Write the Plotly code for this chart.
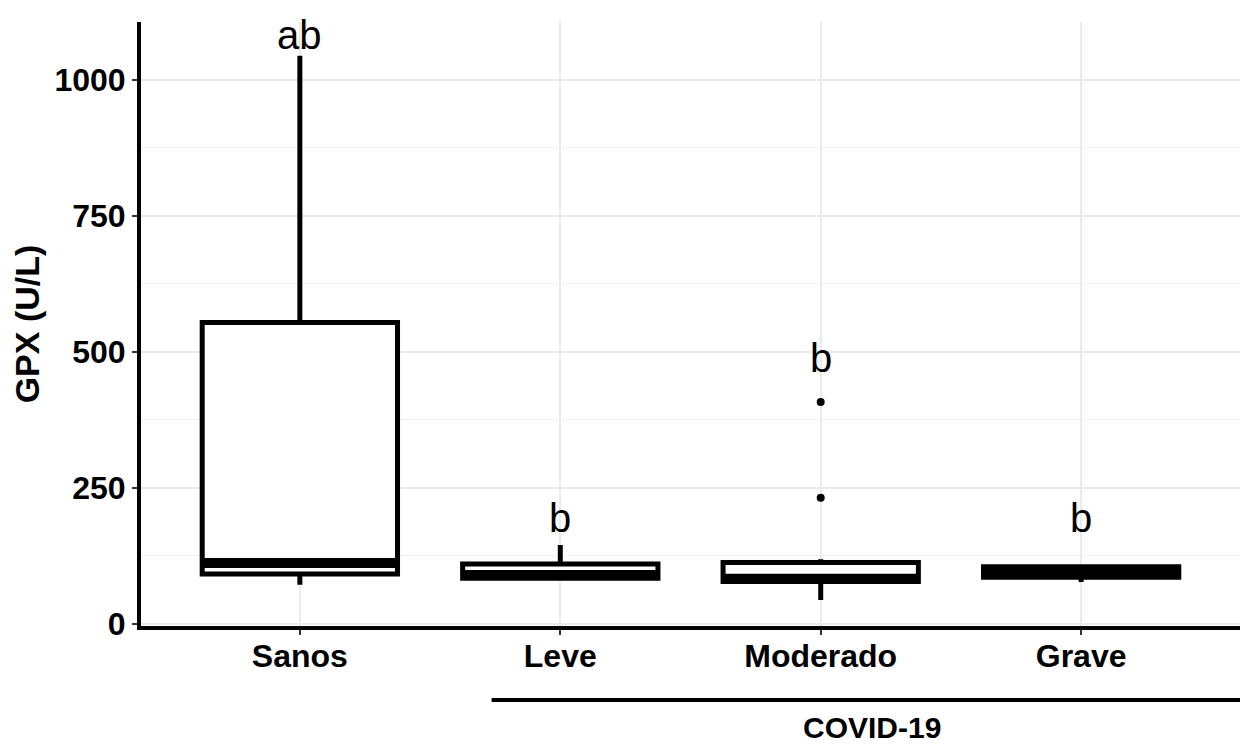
import plotly.graph_objects as go

categories = ["Sanos", "Leve", "Moderado", "Grave"]
lower_whisker = [72, 82, 44, 77]
q1 = [92, 84, 78, 86]
median = [112, 90, 83, 96]
q3 = [554, 110, 113, 105]
upper_whisker = [1044, 145, 119, 105]
outlier_cat = [2, 2]
outlier_val = [408, 232]
letters = ["ab", "b", "b", "b"]
letter_y = [1083, 195, 489, 195]
y_ticks = [0, 250, 500, 750, 1000]

FONT = "Liberation Sans, Arial, sans-serif"
BW = 0.75
xs = list(range(len(categories)))

fig = go.Figure()
for i, c in enumerate(categories):
    fig.add_trace(go.Box(
        x=[i], q1=[q1[i]], median=[median[i]], q3=[q3[i]],
        lowerfence=[lower_whisker[i]], upperfence=[upper_whisker[i]],
        width=BW, whiskerwidth=0, fillcolor="white",
        line=dict(color="black", width=5), boxpoints=False,
        showlegend=False, hoverinfo="skip"))
    fig.add_trace(go.Scatter(
        x=[i - BW / 2, i + BW / 2], y=[median[i], median[i]], mode="lines",
        line=dict(color="black", width=10), showlegend=False, hoverinfo="skip"))

fig.add_trace(go.Scatter(
    x=outlier_cat, y=outlier_val, mode="markers",
    marker=dict(color="black", size=8), showlegend=False, hoverinfo="skip"))

for i, t in enumerate(letters):
    fig.add_annotation(x=i, y=letter_y[i], text=t, showarrow=False,
                       font=dict(family=FONT, size=40, color="black"),
                       xref="x", yref="y", yanchor="middle")

# COVID-19 grouping bracket
fig.add_shape(type="line", xref="paper", yref="paper",
              x0=0.319, x1=1.01, y0=-0.1225, y1=-0.1225,
              line=dict(color="black", width=4))
fig.add_annotation(text="<b>COVID-19</b>", xref="paper", yref="paper",
                   x=0.665, y=-0.1985, showarrow=False,
                   font=dict(family=FONT, size=30, color="black"),
                   yanchor="bottom")

# the page body has an 8px margin, so the figure is sized/offset to compensate
fig.update_layout(
    width=1240, height=739,
    margin=dict(l=133, r=8, t=14, b=121),
    paper_bgcolor="white", plot_bgcolor="white",
    font=dict(family=FONT, color="black"),
    xaxis=dict(
        tickmode="array", tickvals=xs,
        ticktext=["<b>%s</b>" % c for c in categories],
        range=[-0.61, 3.61], showgrid=True, gridcolor="#ebebeb", gridwidth=1.5,
        zeroline=False, showline=True, linecolor="black", linewidth=4,
        ticks="outside", ticklen=5, tickwidth=2, tickcolor="#333333",
        tickfont=dict(family=FONT, size=32, color="black"),
        ticklabelstandoff=-6, automargin=False),
    yaxis=dict(
        tickmode="array", tickvals=y_ticks,
        ticktext=["<b>%d</b>" % v for v in y_ticks],
        range=[-3.7, 1106], showgrid=True, gridcolor="#ebebeb", gridwidth=1.5,
        minor=dict(dtick=125, tick0=0, showgrid=True, gridcolor="#f2f2f2", gridwidth=1),
        zeroline=False, showline=True, linecolor="black", linewidth=4,
        ticks="outside", ticklen=5, tickwidth=2, tickcolor="#333333",
        tickfont=dict(family=FONT, size=32, color="black"),
        automargin=False,
        title=dict(text="<b>GPX (U/L)</b>", font=dict(family=FONT, size=34, color="black"),
                   standoff=10)),
)

fig.write_html("out.html")
